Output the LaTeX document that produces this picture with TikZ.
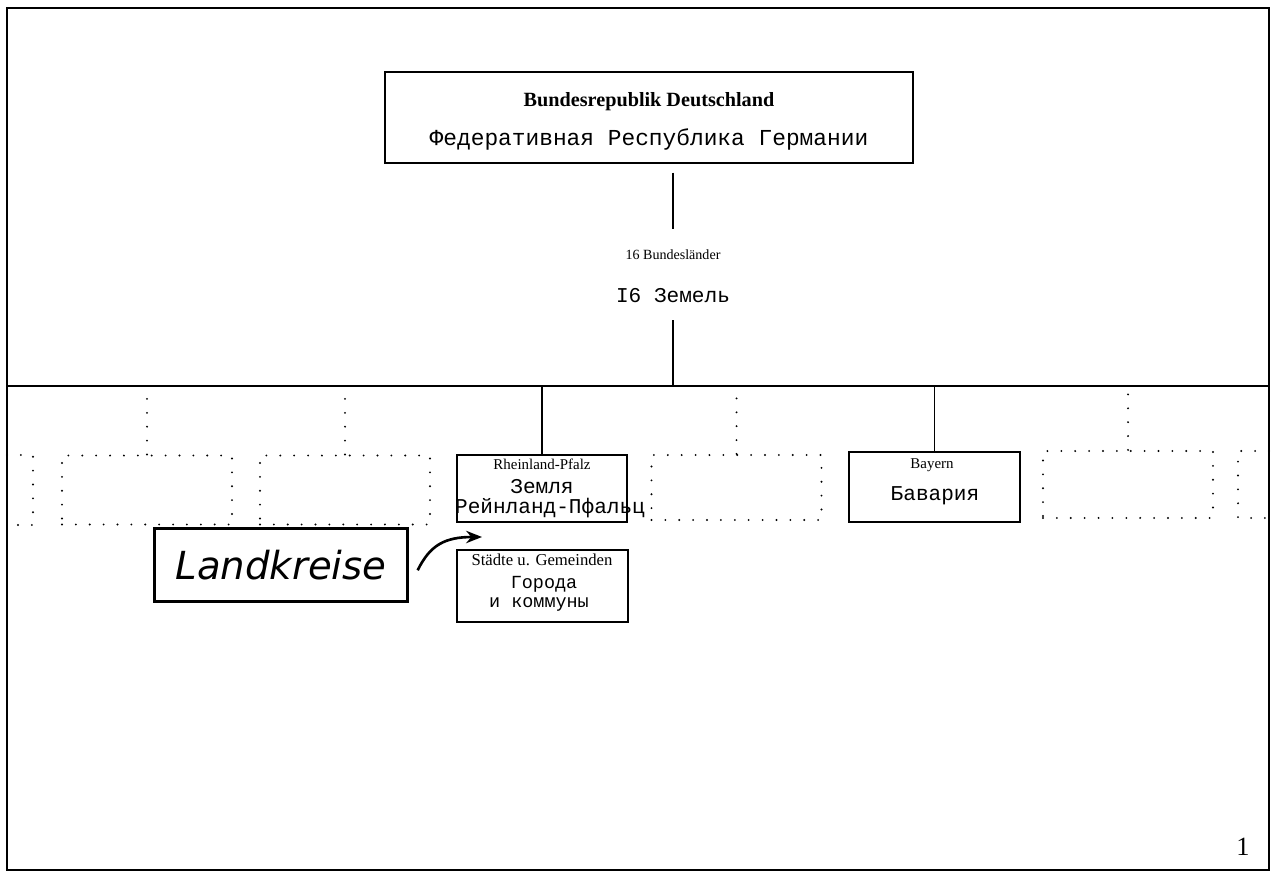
\documentclass[tikz,border=0pt]{standalone}
\usepackage{fontspec}
\setmainfont{Liberation Serif}
\newfontfamily\rusfont{Liberation Mono}
\newfontfamily\handfont{DejaVu Sans}
\usepackage{tikz}
\usetikzlibrary{arrows.meta}
\tikzset{
  box/.style={draw, line width=1.1pt, inner sep=0pt},
  ghost/.style={draw, line width=1.2pt, line cap=round, dash pattern=on 0pt off 7.9pt, inner sep=0pt, minimum width=3.4cm, minimum height=1.38cm},
  de/.style={font=\fontsize{8.5}{10}\selectfont, inner sep=0pt},
  ru/.style={font=\rusfont\fontsize{12}{14}\selectfont, inner sep=0pt},
  link/.style={line width=1.1pt},
  dots/.style={line width=1.2pt, line cap=round, dash pattern=on 0pt off 7.9pt},
}

\begin{document}
\begin{tikzpicture}[x=0.02cm,y=-0.02cm]
\useasboundingbox (0,0) rectangle (1273,874);
\draw[link] (7,8) rectangle (1269,870);
\coordinate (busl) at (7,386);
\coordinate (busr) at (1269,386);
\draw[link] (busl) -- (busr);

\node[box, minimum width=10.56cm, minimum height=1.82cm] (brd) at (649,117.5) {};
\node[inner sep=0pt, font=\fontsize{11.5}{13}\selectfont\bfseries] (brdde) at (649,102) {Bundesrepublik Deutschland};
\node[ru, font=\rusfont\fontsize{13}{15}\selectfont] (brdru) at (649,139) {Федеративная Республика Германии};

\node[de, font=\fontsize{8}{10}\selectfont] (landde) at (673,255) {16 Bundesländer};
\node[ru] (landru) at (673,296) {I6 Земель};
\draw[link, shorten <=5pt, shorten >=11.5pt] (landde |- brd.south) -- (landde);
\draw[link, shorten <=9.5pt] (landru) -- (landru |- busl);

\node[ghost] (g1) at (147,490) {};
\node[ghost] (g2) at (345,490) {};
\node[ghost, minimum height=1.3cm] (g3) at (736.5,487.5) {};
\node[ghost, minimum height=1.34cm] (g4) at (1128,484.5) {};
\draw[dots] (7,455) -- (33,455) -- (33,525) -- (7,525);
\draw[dots] (1269,451) -- (1238,451) -- (1238,518) -- (1269,518);
\draw[dots] (g1.north) -- (g1.north |- busl);
\draw[dots] (g2.north) -- (g2.north |- busl);
\draw[dots] (g3.north) -- (g3.north |- busl);
\draw[dots] (g4.north) -- (g4.north |- busl);

\node[box, minimum width=3.4cm, minimum height=1.34cm] (rp) at (542,488.5) {};
\node[de] (rpde) at (542,464) {Rheinland-Pfalz};
\node[ru] (rpru) at (542,487) {Земля};
\node[ru] (rpru2) at (550,508) {Рейнланд-Пфальц};
\draw[link] (rp.north) -- (rp.north |- busl);

\node[box, minimum width=3.42cm, minimum height=1.44cm] (st) at (542.5,586) {};
\node[de, font=\fontsize{9.5}{11}\selectfont] (stde) at (542,560) {Städte u. Gemeinden};
\node[ru, font=\rusfont\fontsize{10.5}{12}\selectfont] (stru) at (544,584) {Города};
\node[ru, font=\rusfont\fontsize{10.5}{12}\selectfont] (stru2) at (539,604) {и коммуны};

\node[box, minimum width=3.42cm, minimum height=1.4cm] (by) at (934.5,487) {};
\node[de] (byde) at (932,465) {Bayern};
\node[ru] (byru) at (935,496) {Бавария};
\draw[link] (by.north) -- (by.north |- busl);

\node[draw, line width=1.6pt, minimum width=5.06cm, minimum height=1.46cm, font=\handfont\itshape\fontsize{22}{26}\selectfont] (lk) at (281,565) {Landkreise};
\coordinate (lkto) at (482,537);
\draw[line width=1.5pt, -{Stealth[length=9pt, width=7pt]}] ([xshift=5pt,yshift=-3pt]lk.east) .. controls (430,545) and (445,537) .. (lkto);

\node[font=\fontsize{15}{18}\selectfont] (pg) at (1243,847) {1};
\end{tikzpicture}
\end{document}
